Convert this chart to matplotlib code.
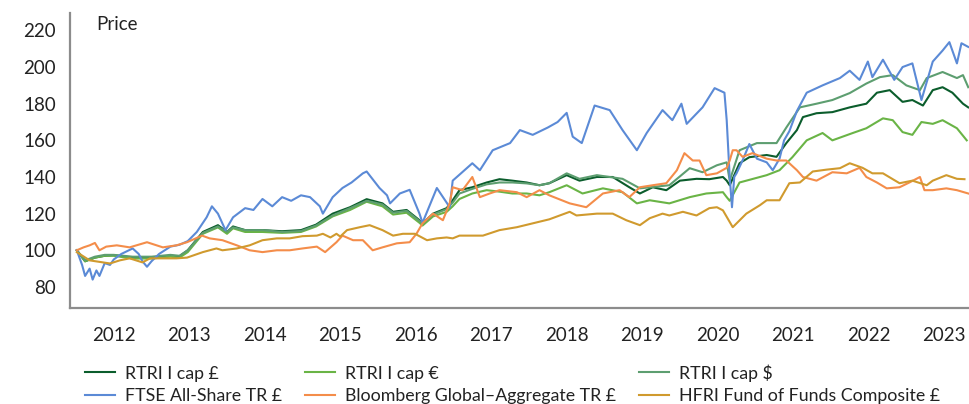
import numpy as np
import matplotlib
matplotlib.use('Agg')
import matplotlib.pyplot as plt

plt.rcParams['font.family'] = ['Lato', 'DejaVu Sans']

# Values (x in decimal years, y rebased price)
rtri_gbp_t = [2011.51, 2011.62, 2011.75, 2011.88, 2012.0, 2012.25, 2012.5, 2012.75, 2012.87, 2012.98,
              2013.18, 2013.38, 2013.5, 2013.58, 2013.74, 2013.97, 2014.23, 2014.48, 2014.68, 2014.9,
              2015.13, 2015.35, 2015.56, 2015.7, 2015.88, 2016.05, 2016.09, 2016.23, 2016.41, 2016.49,
              2016.58, 2016.75, 2016.94, 2017.11, 2017.28, 2017.47, 2017.64, 2017.77, 2018.0, 2018.17,
              2018.4, 2018.61, 2018.83, 2018.97, 2019.14, 2019.32, 2019.5, 2019.72, 2019.89, 2020.07,
              2020.12, 2020.16, 2020.29, 2020.42, 2020.65, 2020.78, 2020.91, 2021.05, 2021.13, 2021.31,
              2021.52, 2021.75, 2021.97, 2022.11, 2022.28, 2022.45, 2022.58, 2022.72, 2022.85, 2022.98,
              2023.11, 2023.25, 2023.32]
rtri_gbp_v = [100, 94, 96, 97, 97.3, 96, 96, 97, 96.7, 100,
              110, 113.7, 110, 113, 111, 111, 110.4, 111, 114, 120,
              123.5, 127.9, 125.6, 121, 122, 116.4, 114.6, 120, 123, 127.3,
              132.8, 134.4, 137, 138.8, 138, 137, 135.5, 136.6, 141, 138,
              140, 140, 134.4, 131, 134.4, 132.8, 138, 139, 138.8, 140,
              138, 135.5, 147.5, 150.8, 152, 151, 158.5, 165.6, 172.7, 174.8,
              175.4, 178, 180, 186, 187.4, 181, 182, 179, 187.4, 189,
              186, 180, 178]

rtri_eur_t = [2011.51, 2011.62, 2011.75, 2011.88, 2012.0, 2012.25, 2012.5, 2012.75, 2012.87, 2012.98,
              2013.18, 2013.38, 2013.5, 2013.58, 2013.74, 2013.97, 2014.23, 2014.48, 2014.68, 2014.9,
              2015.13, 2015.35, 2015.56, 2015.7, 2015.88, 2016.05, 2016.09, 2016.23, 2016.41, 2016.49,
              2016.58, 2016.75, 2016.94, 2017.11, 2017.28, 2017.47, 2017.64, 2017.77, 2018.0, 2018.21,
              2018.48, 2018.74, 2018.93, 2019.1, 2019.36, 2019.63, 2019.85, 2020.07, 2020.12, 2020.16,
              2020.29, 2020.65, 2020.82, 2020.99, 2021.18, 2021.39, 2021.52, 2021.79, 2021.97, 2022.19,
              2022.32, 2022.45, 2022.58, 2022.7, 2022.85, 2022.98, 2023.17, 2023.3]
rtri_eur_v = [100, 94, 96, 97, 97, 95.5, 95.5, 96.5, 96, 99,
              109, 112.5, 109, 112, 110, 110, 109.5, 110, 113, 118.5,
              122, 126.5, 124, 119.5, 120.5, 115, 113.5, 118.5, 121, 124,
              128, 131, 132.8, 132, 131, 131, 130, 131.7, 135.5, 131,
              133.8, 131.7, 125.6, 127.3, 125.6, 129, 131, 131.7, 129, 127,
              137, 141, 143.7, 150.8, 160, 164, 160, 164, 166.6, 172,
              171, 164.5, 163, 170, 169, 171, 166.6, 160]

rtri_usd_t = [2011.51, 2011.62, 2011.75, 2011.88, 2012.0, 2012.25, 2012.5, 2012.75, 2012.87, 2012.98,
              2013.18, 2013.38, 2013.5, 2013.58, 2013.74, 2013.97, 2014.23, 2014.48, 2014.68, 2014.9,
              2015.13, 2015.35, 2015.56, 2015.7, 2015.88, 2016.05, 2016.09, 2016.23, 2016.41, 2016.49,
              2016.58, 2016.75, 2016.94, 2017.11, 2017.28, 2017.47, 2017.64, 2017.77, 2018.0, 2018.17,
              2018.4, 2018.74, 2018.97, 2019.36, 2019.63, 2019.8, 2019.99, 2020.12, 2020.16, 2020.29,
              2020.52, 2020.78, 2020.91, 2021.09, 2021.31, 2021.52, 2021.75, 2021.97, 2022.15, 2022.32,
              2022.5, 2022.68, 2022.77, 2022.98, 2023.17, 2023.25, 2023.32]
rtri_usd_v = [100, 94.5, 96.5, 97.5, 97.5, 96.5, 96.5, 97.5, 97, 100,
              109.5, 113, 110, 112.5, 111, 111, 110, 110.5, 113.5, 119,
              123, 127, 125, 120.5, 121.5, 116, 114.5, 119.5, 122.5, 126,
              131, 133.5, 136, 137, 137, 136.5, 135.5, 136.6, 142, 139,
              141, 139, 133.8, 135.5, 144.8, 142.6, 146.4, 148, 138, 154.6,
              158.5, 158.5, 167, 178, 180, 182, 185.8, 191, 194.5, 195.6,
              190, 187.4, 194, 197.3, 194, 195.6, 189]

ftse_t = [2011.51, 2011.58, 2011.62, 2011.68, 2011.72, 2011.77, 2011.81, 2011.88, 2011.95, 2012.0,
          2012.1, 2012.25, 2012.33, 2012.38, 2012.44, 2012.5, 2012.6, 2012.75, 2012.87, 2012.98,
          2013.1, 2013.23, 2013.3, 2013.38, 2013.48, 2013.58, 2013.74, 2013.85, 2013.97, 2014.1,
          2014.23, 2014.35, 2014.48, 2014.6, 2014.73, 2014.77, 2014.9, 2015.03, 2015.15, 2015.3,
          2015.35, 2015.52, 2015.62, 2015.66, 2015.79, 2015.92, 2016.05, 2016.09, 2016.28, 2016.41,
          2016.45, 2016.49, 2016.6, 2016.75, 2016.85, 2017.02, 2017.25, 2017.38, 2017.55, 2017.75,
          2017.88, 2018.0, 2018.08, 2018.2, 2018.37, 2018.57, 2018.74, 2018.93, 2019.06, 2019.27,
          2019.4, 2019.52, 2019.59, 2019.8, 2019.96, 2020.09, 2020.12, 2020.16, 2020.19, 2020.22,
          2020.25, 2020.33, 2020.42, 2020.52, 2020.65, 2020.73, 2020.82, 2020.88, 2020.95, 2021.05,
          2021.18, 2021.39, 2021.62, 2021.75, 2021.88, 2021.99, 2022.05, 2022.19, 2022.34, 2022.45,
          2022.58, 2022.7, 2022.85, 2022.98, 2023.07, 2023.17, 2023.23, 2023.32]
ftse_v = [100, 92, 86, 90, 84, 89, 86, 93, 92, 95,
          98, 101, 98, 94, 91, 94, 98, 102, 103, 105,
          110, 118, 124, 120, 111, 118, 123, 122, 128, 124,
          129, 127, 130, 129, 124, 120, 129, 134, 137, 142,
          143, 134, 130, 125.6, 131, 133, 120, 115, 134, 126,
          123.5, 138, 142, 147.5, 143.7, 154.6, 158.5, 165.6, 163, 167,
          170, 175, 162, 158.5, 179, 176.5, 165.6, 154.6, 164, 176.5,
          171, 180, 169, 178, 188.5, 186, 171, 140, 123.5, 140,
          142, 149, 158, 150, 148, 143.7, 150, 160, 165, 176,
          186, 190, 194, 198, 193, 203, 194.5, 204, 193, 200,
          202, 182, 203, 209, 213.6, 202, 213, 211]

bbg_t = [2011.51, 2011.6, 2011.68, 2011.75, 2011.81, 2011.9, 2012.04, 2012.21, 2012.44, 2012.65,
         2012.83, 2012.97, 2013.17, 2013.27, 2013.44, 2013.63, 2013.8, 2013.97, 2014.16, 2014.33,
         2014.5, 2014.69, 2014.8, 2014.95, 2015.03, 2015.17, 2015.3, 2015.43, 2015.56, 2015.75,
         2015.92, 2016.01, 2016.09, 2016.23, 2016.36, 2016.45, 2016.49, 2016.62, 2016.75, 2016.85,
         2016.98, 2017.11, 2017.34, 2017.47, 2017.64, 2017.77, 2018.04, 2018.26, 2018.48, 2018.7,
         2018.83, 2018.97, 2019.14, 2019.32, 2019.46, 2019.56, 2019.67, 2019.76, 2019.85, 2019.99,
         2020.12, 2020.16, 2020.2, 2020.25, 2020.33, 2020.46, 2020.65, 2020.78, 2020.91, 2021.05,
         2021.13, 2021.31, 2021.52, 2021.71, 2021.88, 2021.97, 2022.11, 2022.24, 2022.41, 2022.54,
         2022.68, 2022.74, 2022.85, 2023.03, 2023.17, 2023.32]
bbg_v = [100, 101.6, 102.7, 104, 100, 102, 102.7, 101.6, 104.4, 101.6,
         102.7, 104.4, 108, 106.5, 105.5, 102.7, 100, 99, 100, 100,
         101, 102, 99, 104.4, 108, 105.5, 105.5, 100, 101.6, 103.8,
         104.4, 109, 114.7, 120, 116.4, 125.6, 134.4, 132.8, 140, 129,
         131, 132.8, 131.7, 129, 132.8, 130, 125.6, 123.5, 131, 132.8,
         129, 134.4, 135.5, 136.6, 143.7, 153, 149, 149, 141, 142,
         145, 149, 154.6, 154.6, 151, 153, 150, 149, 149, 143.7,
         140, 138, 142.6, 142, 145, 140, 137, 133.8, 134.4, 137,
         140, 132.8, 132.8, 133.8, 132.8, 131]

hfri_t = [2011.51, 2011.68, 2011.95, 2012.08, 2012.21, 2012.38, 2012.48, 2012.83, 2012.97, 2013.18,
          2013.36, 2013.44, 2013.63, 2013.8, 2013.97, 2014.16, 2014.33, 2014.5, 2014.69, 2014.77,
          2014.87, 2014.95, 2015.0, 2015.09, 2015.26, 2015.39, 2015.56, 2015.7, 2015.83, 2015.99,
          2016.15, 2016.28, 2016.41, 2016.49, 2016.58, 2016.89, 2017.11, 2017.34, 2017.55, 2017.77,
          2018.04, 2018.13, 2018.4, 2018.61, 2018.79, 2018.97, 2019.1, 2019.27, 2019.36, 2019.54,
          2019.72, 2019.89, 2019.99, 2020.07, 2020.2, 2020.38, 2020.56, 2020.65, 2020.82, 2020.95,
          2021.09, 2021.26, 2021.44, 2021.62, 2021.75, 2021.92, 2022.05, 2022.19, 2022.41, 2022.58,
          2022.77, 2022.85, 2023.03, 2023.17, 2023.27]
hfri_v = [99, 94.5, 92.8, 94.5, 95.6, 93.4, 95.6, 95.6, 96, 99,
          101, 100, 101, 102.7, 105.5, 106.5, 106.5, 107.7, 108, 109,
          107, 109, 107.5, 111, 112.6, 113.7, 111, 108, 109, 109,
          105.5, 106.5, 107, 106.5, 108, 108, 111, 112.6, 114.7, 116.9,
          121, 119, 120, 120, 116.4, 113.7, 117.5, 120, 119, 121,
          119, 123, 123.5, 121.8, 112.6, 120, 124.6, 127.3, 127.3, 136.6,
          137, 143, 144, 144.8, 147.5, 145, 142, 142, 136.6, 138,
          135.5, 138, 141, 139, 138.8]

years = list(range(2012, 2024))
y_ticks = [80, 100, 120, 140, 160, 180, 200, 220]

series = [
    ('RTRI I cap £', rtri_gbp_t, rtri_gbp_v, '#0b5d2c'),
    ('FTSE All-Share TR £', ftse_t, ftse_v, '#5b8ad6'),
    ('RTRI I cap €', rtri_eur_t, rtri_eur_v, '#6ab446'),
    ('Bloomberg Global–Aggregate TR £', bbg_t, bbg_v, '#f48d4a'),
    ('RTRI I cap $', rtri_usd_t, rtri_usd_v, '#5d9e70'),
    ('HFRI Fund of Funds Composite £', hfri_t, hfri_v, '#d09a2e'),
]
draw_order = [0, 2, 4, 1, 3, 5]

fig = plt.figure(figsize=(9.69, 4.04), dpi=100)
ax = fig.add_axes([70 / 969, 96 / 404, 899 / 969, 295 / 404])

handles = {}
for i in draw_order:
    label, t, v, c = series[i]
    ln, = ax.plot(t, v, color=c, linewidth=1.5, label=label, solid_joinstyle='round')
    handles[i] = ln

ax.set_xlim(2011.42, 2023.33)
ax.set_ylim(68.5, 229.5)
ax.set_xticks(years)
ax.set_xticklabels([str(y) for y in years])
ax.set_yticks(y_ticks)
ax.tick_params(axis='both', length=0, labelsize=13.5, colors='#222222')
ax.tick_params(axis='x', pad=14)
ax.tick_params(axis='y', pad=10)

for s in ['top', 'right']:
    ax.spines[s].set_visible(False)
for s in ['left', 'bottom']:
    ax.spines[s].set_color('#8c8c8c')
    ax.spines[s].set_linewidth(1.6)

fig.text(96 / 969, (404 - 25) / 404, 'Price', fontsize=13.5, color='#222222', va='center', ha='left')

leg = fig.legend([handles[i] for i in range(6)], [series[i][0] for i in range(6)],
                 ncol=3, loc='upper left', bbox_to_anchor=(85 / 969, 1 - 364 / 404),
                 frameon=False, fontsize=12.8, borderpad=0, borderaxespad=0,
                 handlelength=1.7, handletextpad=0.55, columnspacing=1.3, labelspacing=0.38)
for txt in leg.get_texts():
    txt.set_color('#222222')

fig.savefig('out.png', dpi=100)
